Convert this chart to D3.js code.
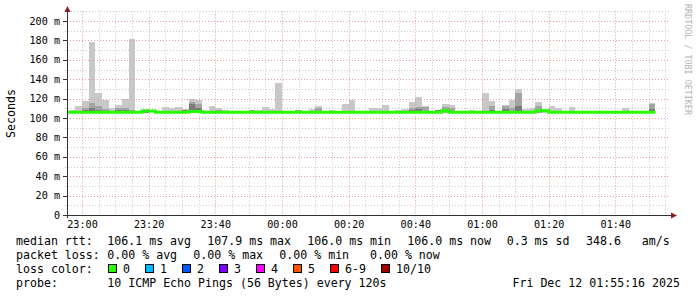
<!DOCTYPE html>
<html>
<head>
<meta charset="utf-8">
<script src="https://cdn.jsdelivr.net/npm/d3@7.9.0/dist/d3.min.js"></script>
<style>
  html, body { margin: 0; background: #fff; }
  svg text { font-family: "DejaVu Sans Mono", monospace; white-space: pre; }
</style>
</head>
<body>
<svg id="chart" width="697" height="297"></svg>
<script>
// 2-minute bins, first one starts 22:54
const firstBin = new Date(2025, 11, 11, 22, 54);
const stepMinutes = 2;

// median rtt per bin (ms)
const medianRtt = [
  106.0, 106.0, 106.0, 106.0, 106.0, 106.0, 106.0, 106.0, 106.0, 106.0,
  106.0, 106.0, 107.3, 107.3, 106.0, 106.0, 106.0, 106.0, 106.0, 106.8,
  106.8, 106.0, 106.0, 106.0, 106.0, 106.0, 106.0, 106.0, 106.0, 106.0,
  106.0, 106.0, 106.0, 106.0, 106.0, 106.0, 106.0, 106.0, 106.0, 106.0,
  106.0, 106.0, 106.0, 106.0, 106.0, 106.0, 106.0, 106.0, 106.0, 106.0,
  106.0, 106.0, 106.0, 106.0, 106.0, 106.0, 106.0, 107.8, 106.0, 106.0,
  106.0, 106.0, 106.0, 106.0, 106.0, 106.0, 106.0, 106.0, 106.0, 106.0,
  106.0, 107.4, 107.4, 106.0, 106.0, 106.0, 106.0, 106.0, 106.0, 106.0,
  106.0, 106.0, 106.0, 106.0, 106.0, 106.0, 106.0, 106.0, 106.0
];

// smoke: slowest ping (light), inner pings (mid), near-median pings (dark)
const smokeMax = [
  107.5, 108.0, 112.4, 117.5, 178.4, 125.8, 118.6, 110.3, 113.0, 119.6,
  181.4, null, 108.8, null, null, 111.7, 110.3, 111.7, 109.0, 120.0,
  118.6, null, 112.4, 110.3, 108.2, null, null, null, 108.2, 108.2,
  111.3, 109.6, 136.4, null, null, 108.3, null, 109.6, 112.4, null,
  108.2, null, 114.4, 118.6, null, null, 110.3, 110.3, 113.4, null,
  108.2, 109.6, 116.5, 121.6, 112.4, null, 108.5, 114.4, 113.4, null,
  null, 108.5, null, 125.8, 117.8, null, 113.4, 118.6, 129.9, 109.6,
  110.6, 116.8, 109.6, 112.4, 110.3, null, 111.3, null, null, null,
  null, null, null, null, 110.3, null, null, null, 115.5
];
const smokeMid = [
  null, null, null, 110.0, 115.8, 112.4, 109.0, null, 110.0, 110.3,
  108.0, null, null, null, null, null, null, null, null, 116.5,
  114.4, null, null, 108.5, null, null, null, null, 107.8, null,
  null, null, null, null, null, 108.0, null, null, 110.3, null,
  null, null, null, null, null, null, null, null, null, null,
  null, null, 110.6, 111.6, 111.3, null, null, 111.3, 110.6, null,
  null, null, null, null, 112.4, null, 112.4, 110.0, 125.4, null,
  null, 112.4, null, null, null, null, null, null, null, null,
  null, null, null, null, null, null, null, null, 114.8
];
const smokeDark = [
  null, null, null, 108.0, 110.0, 108.0, null, null, 108.0, 108.5,
  107.5, null, 108.5, null, null, null, null, null, 108.0, 114.4,
  110.0, null, null, null, null, null, null, null, null, null,
  null, null, null, null, null, null, null, null, null, null,
  null, null, null, null, null, null, null, null, null, null,
  null, null, 108.5, 109.0, null, null, 108.5, null, null, null,
  null, null, null, null, 108.5, null, 109.0, null, 112.7, null,
  null, null, null, null, null, null, null, null, null, null,
  null, null, null, null, null, null, null, null, 109.6
];
const smokeFloor = 105.5;

const lossLabels = ['0', '1', '2', '3', '4', '5', '6-9', '10/10'];
const lossColors = ['#26ff00', '#00b8ff', '#0059ff', '#7e00ff', '#ff00ff', '#ff5500', '#ff0000', '#a10000'];

const rttLegend = [
  ['median rtt:', 16], ['106.1 ms avg', 107.3], ['107.9 ms max', 207.3],
  ['106.0 ms min', 307.3], ['106.0 ms now', 407.3], ['0.3 ms sd', 506.7],
  ['348.6   am/s', 586]
];
const lossLegend = [
  ['packet loss:', 16], ['0.00 % avg', 107.3], ['0.00 % max', 193.3],
  ['0.00 % min', 279.3], ['0.00 % now', 370]
];
const probeText = '10 ICMP Echo Pings (56 Bytes) every 120s';
const stampText = 'Fri Dec 12 01:55:16 2025';

const svg = d3.select('#chart');

const x = d3.scaleTime()
  .domain([new Date(2025, 11, 11, 22, 55, 30), new Date(2025, 11, 12, 1, 56, 24)])
  .range([67, 670]);
const y = d3.scaleLinear().domain([0, 210]).range([215, 11.3]);

const plotTop = y(210), plotBottom = y(0), plotLeft = x.range()[0], plotRight = x.range()[1];

/* grid */
const grid = svg.append('g');
const minorT = x.ticks(d3.timeMinute.every(5)).filter(t => t.getMinutes() % 20 !== 0);
const majorT = x.ticks(d3.timeMinute.every(20));
const minorV = y.ticks(21).filter(v => v % 20 !== 0);
const majorV = y.ticks(10).filter(v => v > 0);

grid.selectAll('.vmin').data(minorT).join('line')
  .attr('x1', d => Math.round(x(d)) + 0.5).attr('x2', d => Math.round(x(d)) + 0.5)
  .attr('y1', plotTop).attr('y2', plotBottom + 2)
  .attr('stroke', '#c8c8c8').attr('stroke-dasharray', '1,2');
grid.selectAll('.hmin').data(minorV).join('line')
  .attr('x1', plotLeft - 2).attr('x2', plotRight)
  .attr('y1', d => Math.round(y(d)) + 0.5).attr('y2', d => Math.round(y(d)) + 0.5)
  .attr('stroke', '#c8c8c8').attr('stroke-dasharray', '1,2');

/* smoke */
svg.append('clipPath').attr('id', 'clip')
  .append('rect').attr('x', plotLeft).attr('y', 0).attr('width', plotRight - plotLeft).attr('height', plotBottom);
const plot = svg.append('g').attr('clip-path', 'url(#clip)');

const bins = medianRtt.map((m, i) => ({
  t0: d3.timeMinute.offset(firstBin, i * stepMinutes),
  t1: d3.timeMinute.offset(firstBin, (i + 1) * stepMinutes),
  median: m, hi: smokeMax[i], mid: smokeMid[i], dark: smokeDark[i]
}));

function smoke(key, color) {
  plot.append('g').selectAll('rect')
    .data(bins.filter(b => b[key] != null))
    .join('rect')
      .attr('x', b => x(b.t0))
      .attr('width', b => x(b.t1) - x(b.t0))
      .attr('y', b => y(b[key]))
      .attr('height', b => y(smokeFloor) - y(b[key]))
      .attr('fill', color)
      .attr('shape-rendering', 'crispEdges');
}
smoke('hi', '#c8c8c8');
smoke('mid', '#a4a4a4');
smoke('dark', '#7a7a7a');

// major grid over smoke
const grid2 = svg.append('g');
grid2.selectAll('.vmaj').data(majorT).join('line')
  .attr('x1', d => Math.round(x(d)) + 0.5).attr('x2', d => Math.round(x(d)) + 0.5)
  .attr('y1', plotTop).attr('y2', plotBottom + 3)
  .attr('stroke', '#ec9c9c').attr('stroke-dasharray', '1,2');
grid2.selectAll('.hmaj').data(majorV).join('line')
  .attr('x1', plotLeft - 3).attr('x2', plotRight)
  .attr('y1', d => Math.round(y(d)) + 0.5).attr('y2', d => Math.round(y(d)) + 0.5)
  .attr('stroke', '#ec9c9c').attr('stroke-dasharray', '1,2');

/* median line */
const pts = bins.flatMap(b => [[x(b.t0), y(b.median)], [x(b.t1), y(b.median)]]);
const medLayer = svg.append('g').attr('clip-path', 'url(#clip)');
medLayer.append('path')
  .attr('d', d3.line()(pts))
  .attr('fill', 'none')
  .attr('stroke', lossColors[0])
  .attr('stroke-width', 3);

/* axes */
const ax = svg.append('g');
ax.append('line').attr('x1', plotLeft - 4).attr('x2', plotRight + 1).attr('y1', plotBottom + 0.5).attr('y2', plotBottom + 0.5)
  .attr('stroke', '#333');
ax.append('line').attr('x1', plotLeft + 0.5).attr('x2', plotLeft + 0.5).attr('y1', plotBottom + 3).attr('y2', 9)
  .attr('stroke', '#333');
ax.append('path').attr('d', `M${plotLeft - 2.5},12 L${plotLeft + 3.5},12 L${plotLeft + 0.5},6 Z`).attr('fill', '#8b1a1a');
ax.append('path').attr('d', `M${plotRight + 1},${plotBottom - 2.5} L${plotRight + 1},${plotBottom + 3.5} L${plotRight + 7},${plotBottom + 0.5} Z`).attr('fill', '#8b1a1a');

ax.selectAll('.yt').data(y.ticks(10)).join('line')
  .attr('x1', plotLeft - 4).attr('x2', plotLeft)
  .attr('y1', d => Math.round(y(d)) + 0.5).attr('y2', d => Math.round(y(d)) + 0.5)
  .attr('stroke', '#333');

const yFmt = v => v === 0 ? '0' : `${v} m`;
ax.selectAll('.yl').data(y.ticks(10)).join('text')
  .attr('x', 60).attr('y', d => y(d) + 3.6)
  .attr('text-anchor', 'end')
  .attr('font-size', '10.15px')
  .attr('fill', '#000')
  .text(yFmt);

ax.selectAll('.xl').data(majorT).join('text')
  .attr('x', d => x(d) + 0.5).attr('y', 228)
  .attr('text-anchor', 'middle')
  .attr('font-size', '10.15px')
  .attr('fill', '#000')
  .text(d3.timeFormat('%H:%M'));

svg.append('text')
  .attr('transform', 'translate(15,113.5) rotate(-90)')
  .attr('text-anchor', 'middle')
  .attr('font-size', '11.6px')
  .text('Seconds');

svg.append('text')
  .attr('transform', 'translate(685,4) rotate(90)')
  .attr('font-size', '8.4px')
  .attr('fill', '#b4b4b4')
  .text('RRDTOOL / TOBI OETIKER');

/* legend */
const leg = svg.append('g').attr('font-size', '11.6px').attr('fill', '#000');
leg.selectAll('.l1').data(rttLegend).join('text')
  .attr('x', d => d[1]).attr('y', 245).text(d => d[0]);
leg.selectAll('.l2').data(lossLegend).join('text')
  .attr('x', d => d[1]).attr('y', 259).text(d => d[0]);
leg.append('text').attr('x', 16).attr('y', 273).text('loss color:');

const swatchX = [108.5, 145.5, 182.5, 219.5, 256.5, 293.5, 330.5, 381.5];
const sw = leg.selectAll('.sw').data(lossLabels).join('g')
  .attr('transform', (d, i) => `translate(${swatchX[i]},264.5)`);
sw.append('rect').attr('width', 8).attr('height', 8)
  .attr('fill', (d, i) => lossColors[i]).attr('stroke', '#000');
sw.append('text').attr('x', 14.5).attr('y', 8.5).text(d => d);

leg.append('text').attr('x', 16).attr('y', 287).text('probe:');
leg.append('text').attr('x', 107.3).attr('y', 287).text(probeText);
leg.append('text').attr('x', 680).attr('y', 287).attr('text-anchor', 'end').text(stampText);
</script>
</body>
</html>
